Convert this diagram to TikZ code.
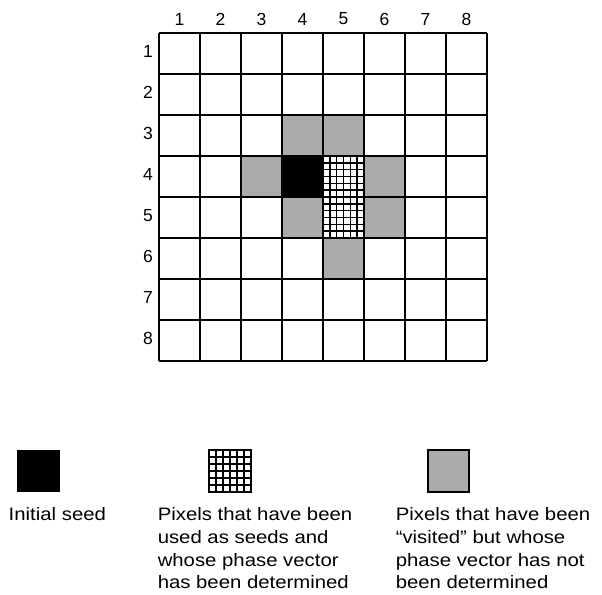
\documentclass[tikz,border=0pt]{standalone}
\usepackage{fontspec}
\setmainfont{Liberation Sans}
\newfontfamily\legfont[FakeStretch=1.13,Ligatures=TeX]{Liberation Sans}
\begin{document}
\begin{tikzpicture}
  [x=1pt,y=-1pt,line width=1.5pt,
   visited/.style={fill=black!33},
   seedcell/.style={fill=black},
   hatch/.style={line width=1.4pt},
   num/.style={font=\fontsize{17.5}{17.5}\selectfont,inner sep=0pt},
   legtext/.style={font=\legfont\fontsize{18}{22.7}\selectfont,align=left,anchor=north west,inner sep=0pt}]
\useasboundingbox (0,0) rectangle (602,594);

  % the 8x8 grid
  \begin{scope}[shift={(159,33)},x=41pt,y=-41pt]
    \foreach \c/\r in {4/3,5/3,3/4,6/4,4/5,6/5,5/6}
      \fill[visited] (\c-1,\r-1) rectangle (\c,\r);
    \fill[seedcell] (3,3) rectangle (4,4);

    \foreach \k in {1,...,5} {
      \draw[hatch] (4+\k/6,3) -- (4+\k/6,5);
      \draw[hatch] (4,3+\k/6) -- (5,3+\k/6);
      \draw[hatch] (4,4+\k/6) -- (5,4+\k/6);
    }

    \foreach \i in {0,...,8} {
      \draw (\i,0) -- (\i,8);
      \draw (0,\i) -- (8,\i);
    }

    \foreach \i in {1,...,8} {
      \node[num] (col\i) at (\i-0.5,-0.34) {\i};
      \node[num] (row\i) at (-0.27,\i-0.55) {\i};
    }
  \end{scope}

  % legend
  \fill[seedcell] (17,450) rectangle (60,492);
  \filldraw[fill=white] (209,450) rectangle (251,492);
  \foreach \k in {1,...,5} {
    \draw[hatch] ({209+7*\k},450) -- ({209+7*\k},492);
    \draw[hatch] (209,{450+7*\k}) -- (251,{450+7*\k});
  }
  \filldraw[visited] (428,450) rectangle (469,492);

  \node[legtext] (seedtxt) at (8,507) {Initial seed};
  \node[legtext] (usedtxt) at (157,507) {Pixels that have been\\used as seeds and\\whose phase vector\\has been determined};
  \node[legtext] (vistxt) at (395,507) {Pixels that have been\\“visited” but whose\\phase vector has not\\been determined};
\end{tikzpicture}
\end{document}
